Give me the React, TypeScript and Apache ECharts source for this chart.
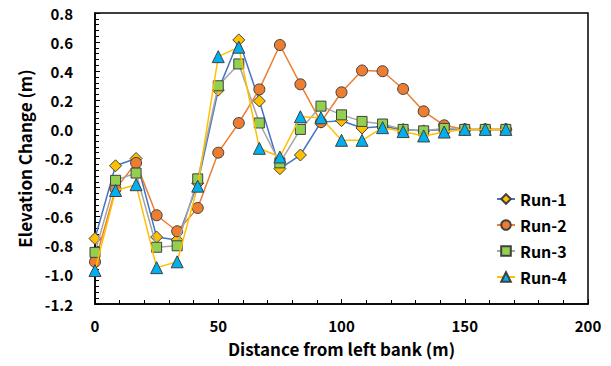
import React, { useEffect, useRef } from "react";
import * as echarts from "echarts";

const distances = [0, 8.33, 16.67, 25, 33.33, 41.67, 50, 58.33, 66.67, 75, 83.33, 91.67, 100, 108.33, 116.67, 125, 133.33, 141.67, 150, 158.33, 166.67];
const run1 = [-0.75, -0.25, -0.2, -0.74, -0.76, -0.37, 0.27, 0.615, 0.195, -0.27, -0.176, 0.05, 0.06, 0.01, 0.02, 0.0, -0.01, 0.0, 0.0, 0.0, 0.0];
const run2 = [-0.91, -0.41, -0.23, -0.59, -0.7, -0.54, -0.16, 0.044, 0.275, 0.58, 0.31, 0.05, 0.255, 0.405, 0.4, 0.278, 0.124, 0.028, 0.0, 0.0, 0.0];
const run3 = [-0.845, -0.35, -0.3, -0.81, -0.8, -0.34, 0.3, 0.45, 0.044, -0.23, 0.0, 0.16, 0.1, 0.055, 0.037, 0.0, -0.01, 0.007, 0.0, 0.0, 0.0];
const run4 = [-0.97, -0.42, -0.38, -0.95, -0.91, -0.39, 0.5, 0.565, -0.13, -0.19, 0.087, 0.08, -0.075, -0.075, 0.012, -0.015, -0.045, -0.018, 0.0, 0.0, 0.0];
const seriesNames = ["Run-1", "Run-2", "Run-3", "Run-4"];

const FONT = "'Noto Sans CJK KR', 'Open Sans', sans-serif";

export default function App() {
  const ref = useRef<HTMLDivElement>(null);
  useEffect(() => {
    if (!ref.current) return;
    const chart = echarts.init(ref.current, null, { renderer: "svg" });
    const mk = (vals: number[]) => distances.map((d, i) => [d, vals[i]]);
    const defs = [
      { data: run1, line: "#4472C4", fill: "#FFC000", symbol: "diamond", size: 12 },
      { data: run2, line: "#ED7D31", fill: "#ED7D31", symbol: "circle", size: 11 },
      { data: run3, line: "#A5A5A5", fill: "#92D050", symbol: "rect", size: 10 },
      { data: run4, line: "#FFC000", fill: "#00B0F0", symbol: "triangle", size: 12 },
    ];
    chart.setOption({
      animation: false,
      textStyle: { fontFamily: FONT },
      grid: {
        left: 95,
        right: 23,
        top: 13,
        bottom: 62,
        show: true,
        borderColor: "#000",
        borderWidth: 1.5,
      },
      legend: {
        orient: "vertical",
        left: 491,
        top: 186,
        itemGap: 10,
        itemWidth: 18,
        itemHeight: 12,
        textStyle: { fontSize: 16, fontWeight: "bold", color: "#000", fontFamily: FONT },
        data: seriesNames,
      },
      xAxis: {
        type: "value",
        min: 0,
        max: 200,
        interval: 50,
        name: "Distance from left bank (m)",
        nameLocation: "middle",
        nameGap: 36,
        nameTextStyle: { fontSize: 17, fontWeight: "bold", color: "#000", fontFamily: FONT },
        axisLine: { show: true, onZero: false, lineStyle: { color: "#000", width: 1.5 } },
        axisTick: { show: true, inside: true, length: 5, lineStyle: { color: "#000" } },
        minorTick: { show: true, splitNumber: 5, length: 4, lineStyle: { color: "#000" } },
        axisLabel: { fontSize: 15, fontWeight: "bold", color: "#000", margin: 14, fontFamily: FONT },
        splitLine: { show: false },
      },
      yAxis: {
        type: "value",
        min: -1.2,
        max: 0.8,
        interval: 0.2,
        name: "Elevation Change (m)",
        nameLocation: "middle",
        nameGap: 62,
        nameTextStyle: { fontSize: 17, fontWeight: "bold", color: "#000", fontFamily: FONT },
        axisLine: { show: true, onZero: false, lineStyle: { color: "#000", width: 1.5 } },
        axisTick: { show: true, inside: true, length: 5, lineStyle: { color: "#000" } },
        minorTick: { show: true, splitNumber: 5, length: 4, lineStyle: { color: "#000" } },
        axisLabel: {
          fontSize: 15,
          fontWeight: "bold",
          color: "#000",
          margin: 22,
          fontFamily: FONT,
          formatter: (v: number) => v.toFixed(1),
        },
        splitLine: { show: false },
      },
      series: defs.map((d, i) => ({
        name: seriesNames[i],
        type: "line",
        data: mk(d.data),
        symbol: d.symbol,
        symbolSize: d.size,
        showAllSymbol: true,
        lineStyle: { color: d.line, width: 1.5 },
        itemStyle: { color: d.fill, borderColor: "#404040", borderWidth: 1 },
        z: 2 + i,
      })),
    });
    return () => chart.dispose();
  }, []);
  return (
    <div
      ref={ref}
      style={{ position: "fixed", left: 0, top: 0, width: 611, height: 366, background: "#fff" }}
    />
  );
}
